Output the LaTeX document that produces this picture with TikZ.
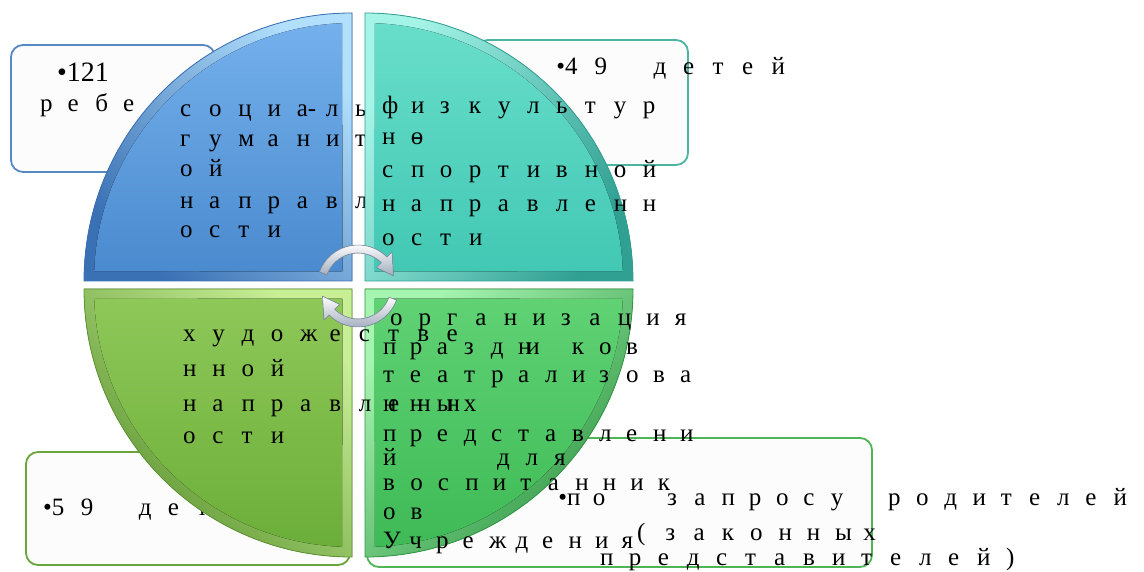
\documentclass[tikz,border=0pt]{standalone}
\usepackage{fontspec}
\setmainfont{Liberation Serif}
\usetikzlibrary{calc}
\makeatletter
\newcommand\spc[2]{\@tfor\ch:=#2\do{\makebox[#1][l]{\ch}}}
\makeatother
\newcommand\obar{\rlap{о}\hbox to 12.5pt{\hss-\hss}}
\definecolor{blA}{RGB}{116,176,236}
\definecolor{blB}{RGB}{74,138,206}
\definecolor{blE}{RGB}{58,112,180}
\definecolor{blL}{RGB}{178,224,252}
\definecolor{teA}{RGB}{104,222,202}
\definecolor{teB}{RGB}{66,200,180}
\definecolor{teE}{RGB}{48,160,146}
\definecolor{teL}{RGB}{165,244,232}
\definecolor{lgA}{RGB}{142,200,88}
\definecolor{lgB}{RGB}{108,174,58}
\definecolor{lgE}{RGB}{92,148,48}
\definecolor{lgL}{RGB}{200,238,150}
\definecolor{grA}{RGB}{96,210,116}
\definecolor{grB}{RGB}{62,186,86}
\definecolor{grE}{RGB}{48,150,68}
\definecolor{grL}{RGB}{165,244,175}
\definecolor{bxTL}{RGB}{88,136,194}
\definecolor{bxTR}{RGB}{76,180,162}
\definecolor{bxBL}{RGB}{106,164,60}
\definecolor{bxBR}{RGB}{78,180,86}
\definecolor{arF}{RGB}{160,172,188}
\definecolor{arD}{RGB}{130,142,160}
% corner x, corner y, start angle, body top, body bottom, edge dark, edge light, shading angle of the bevel
\newcommand\qdr[8]{%
  \fill[top color=#7, bottom color=#6, shading angle=#8] (#1,#2) -- ++(#3:268pt) arc[start angle=#3, end angle=#3+90, radius=268pt] -- cycle;
  \fill[top color=#4, bottom color=#5] ($(#1,#2)+(#3+45:13.5pt)$) -- ($(#1,#2)+(#3+2.2:258pt)$) arc[start angle=#3+2.2, end angle=#3+87.8, radius=258pt] -- cycle;
  \draw[#6, line width=0.8pt] (#1,#2) -- ++(#3:268pt) arc[start angle=#3, end angle=#3+90, radius=268pt] -- cycle;
}
\begin{document}
\begin{tikzpicture}[x=1pt,y=1pt,
  txt/.style={inner sep=0pt, outer sep=0pt, anchor=base west, font=\fontsize{25}{29}\selectfont},
  box/.style={rounded corners=12pt, line width=1.8pt, fill={rgb,255:red,252;green,252;blue,252}, inner sep=0pt, outer sep=0pt},
  arr/.style={top color=white, bottom color=arF, draw=arD, line width=0.6pt}]
\useasboundingbox (0,0) rectangle (1144,571);
\fill[white] (0,0) rectangle (1144,571);
% boxes
\node[box, draw=bxTL, minimum width=204pt, minimum height=127pt] (bx1) at (113,462.5) {};
\node[box, draw=bxTR, minimum width=212pt, minimum height=125pt] (bx2) at (582,468.5) {};
\node[box, draw=bxBL, minimum width=324pt, minimum height=113pt] (bx3) at (188,62.5) {};
\node[box, draw=bxBR, minimum width=505pt, minimum height=129pt] (bx4) at (619.5,68.5) {};
% box texts
\node[txt, font=\fontsize{28}{32}\selectfont] (a1) at (57,489) {•121};
\node[txt] (a2) at (40,459) {\spc{27.7pt}{р е б е}};
\node[txt] (b1) at (565,496) {\llap{•}\spc{29.5pt}{4 9 ~ д е т е й}};
\node[txt] (c1) at (52,56) {\llap{•}\spc{29pt}{5 9 ~ д е т}};
\node[txt] (d1) at (567,66) {\llap{•}\spc{26pt}{п о}};
\node[txt] (d2) at (667,66) {\spc{27.3pt}{з а п р о с у}};
\node[txt] (d3) at (888,66) {\spc{28.2pt}{р о д и т е л е й}};
\node[txt] (d4) at (637,31) {\spc{28.3pt}{( з а к о н н ы х}};
\node[txt] (d5) at (600,6) {\spc{29pt}{п р е д с т а в и т е л е й )}};
% top-left quadrant
\qdr{352}{290}{90}{blA}{blB}{blE}{blL}{-45}
\node[txt] (q1a) at (180,454) {\spc{29.2pt}{с о ц и {а-} л ь}};
\node[txt] (q1b) at (180,424) {\spc{29.2pt}{г у м а н и т}};
\node[txt] (q1c) at (180,394) {\spc{29.2pt}{о й}};
\node[txt] (q1d) at (180,362) {\spc{29.2pt}{н а п р а в л}};
\node[txt] (q1e) at (180,333) {\spc{29.2pt}{о с т и}};
% top-right quadrant
\qdr{365}{290}{0}{teA}{teB}{teE}{teL}{60}
\node[txt] (q2a) at (382,457) {\spc{29pt}{ф и з к у л ь т у р}};
\node[txt] (q2b) at (382,426) {\spc{29pt}{н \obar}};
\node[txt] (q2c) at (382,393) {\spc{29pt}{с п о р т и в н о й}};
\node[txt] (q2d) at (382,359) {\spc{29pt}{н а п р а в л е н н}};
\node[txt] (q2e) at (382,325) {\spc{29pt}{о с т и}};
% bottom-right quadrant
\qdr{365}{282}{270}{grA}{grB}{grE}{grL}{45}
\node[txt] (q4a) at (390,245) {\spc{28.5pt}{о р г а н и з а ц и я}};
\node[txt] (q4b) at (383,216) {\spc{27pt}{п р а з д {н\kern-5pt и} ~ к о в}};
\node[txt] (q4c) at (383,188) {\spc{27pt}{т е а т р а л и з о в а}};
\node[txt] (q4d) at (383,160) {\spc{27pt}{н н ы х}};
\node[txt] (q4e) at (383,129) {\spc{27pt}{п р е д с т а в л е н и}};
\node[txt] (q4f) at (383,106) {\spc{28.5pt}{й ~ ~ ~ д л я}};
\node[txt] (q4g) at (383,81) {\spc{27.5pt}{в о с п и т а н н и к}};
\node[txt] (q4h) at (383,52) {\spc{27.5pt}{о в}};
\node[txt] (q4i) at (383,23) {\spc{26.5pt}{У ч р е ж д е н и я}};
% bottom-left quadrant
\qdr{352}{282}{180}{lgA}{lgB}{lgE}{lgL}{-45}
\node[txt] (q3a) at (183,229) {\spc{29.3pt}{х у д о ж е с т в е}};
\node[txt] (q3b) at (183,194) {\spc{29.3pt}{н н о й}};
\node[txt] (q3c) at (183,160) {\spc{29.3pt}{н а п р а в л е н н}};
\node[txt] (q3d) at (183,128) {\spc{29.3pt}{о с т и}};
% circular arrows
\coordinate (M) at (358,285);
\filldraw[arr] ($(M)+(160:41pt)$) arc[start angle=160, end angle=45, radius=41pt] -- ($(M)+(45:48pt)$) -- ($(M)+(16:37pt)$) -- ($(M)+(45:26pt)$) -- ($(M)+(45:33pt)$) arc[start angle=45, end angle=160, radius=33pt] -- cycle;
\filldraw[arr] ($(M)+(-20:41pt)$) arc[start angle=-20, end angle=-135, radius=41pt] -- ($(M)+(-135:48pt)$) -- ($(M)+(-164:37pt)$) -- ($(M)+(-135:26pt)$) -- ($(M)+(-135:33pt)$) arc[start angle=-135, end angle=-20, radius=33pt] -- cycle;
\end{tikzpicture}
\end{document}
